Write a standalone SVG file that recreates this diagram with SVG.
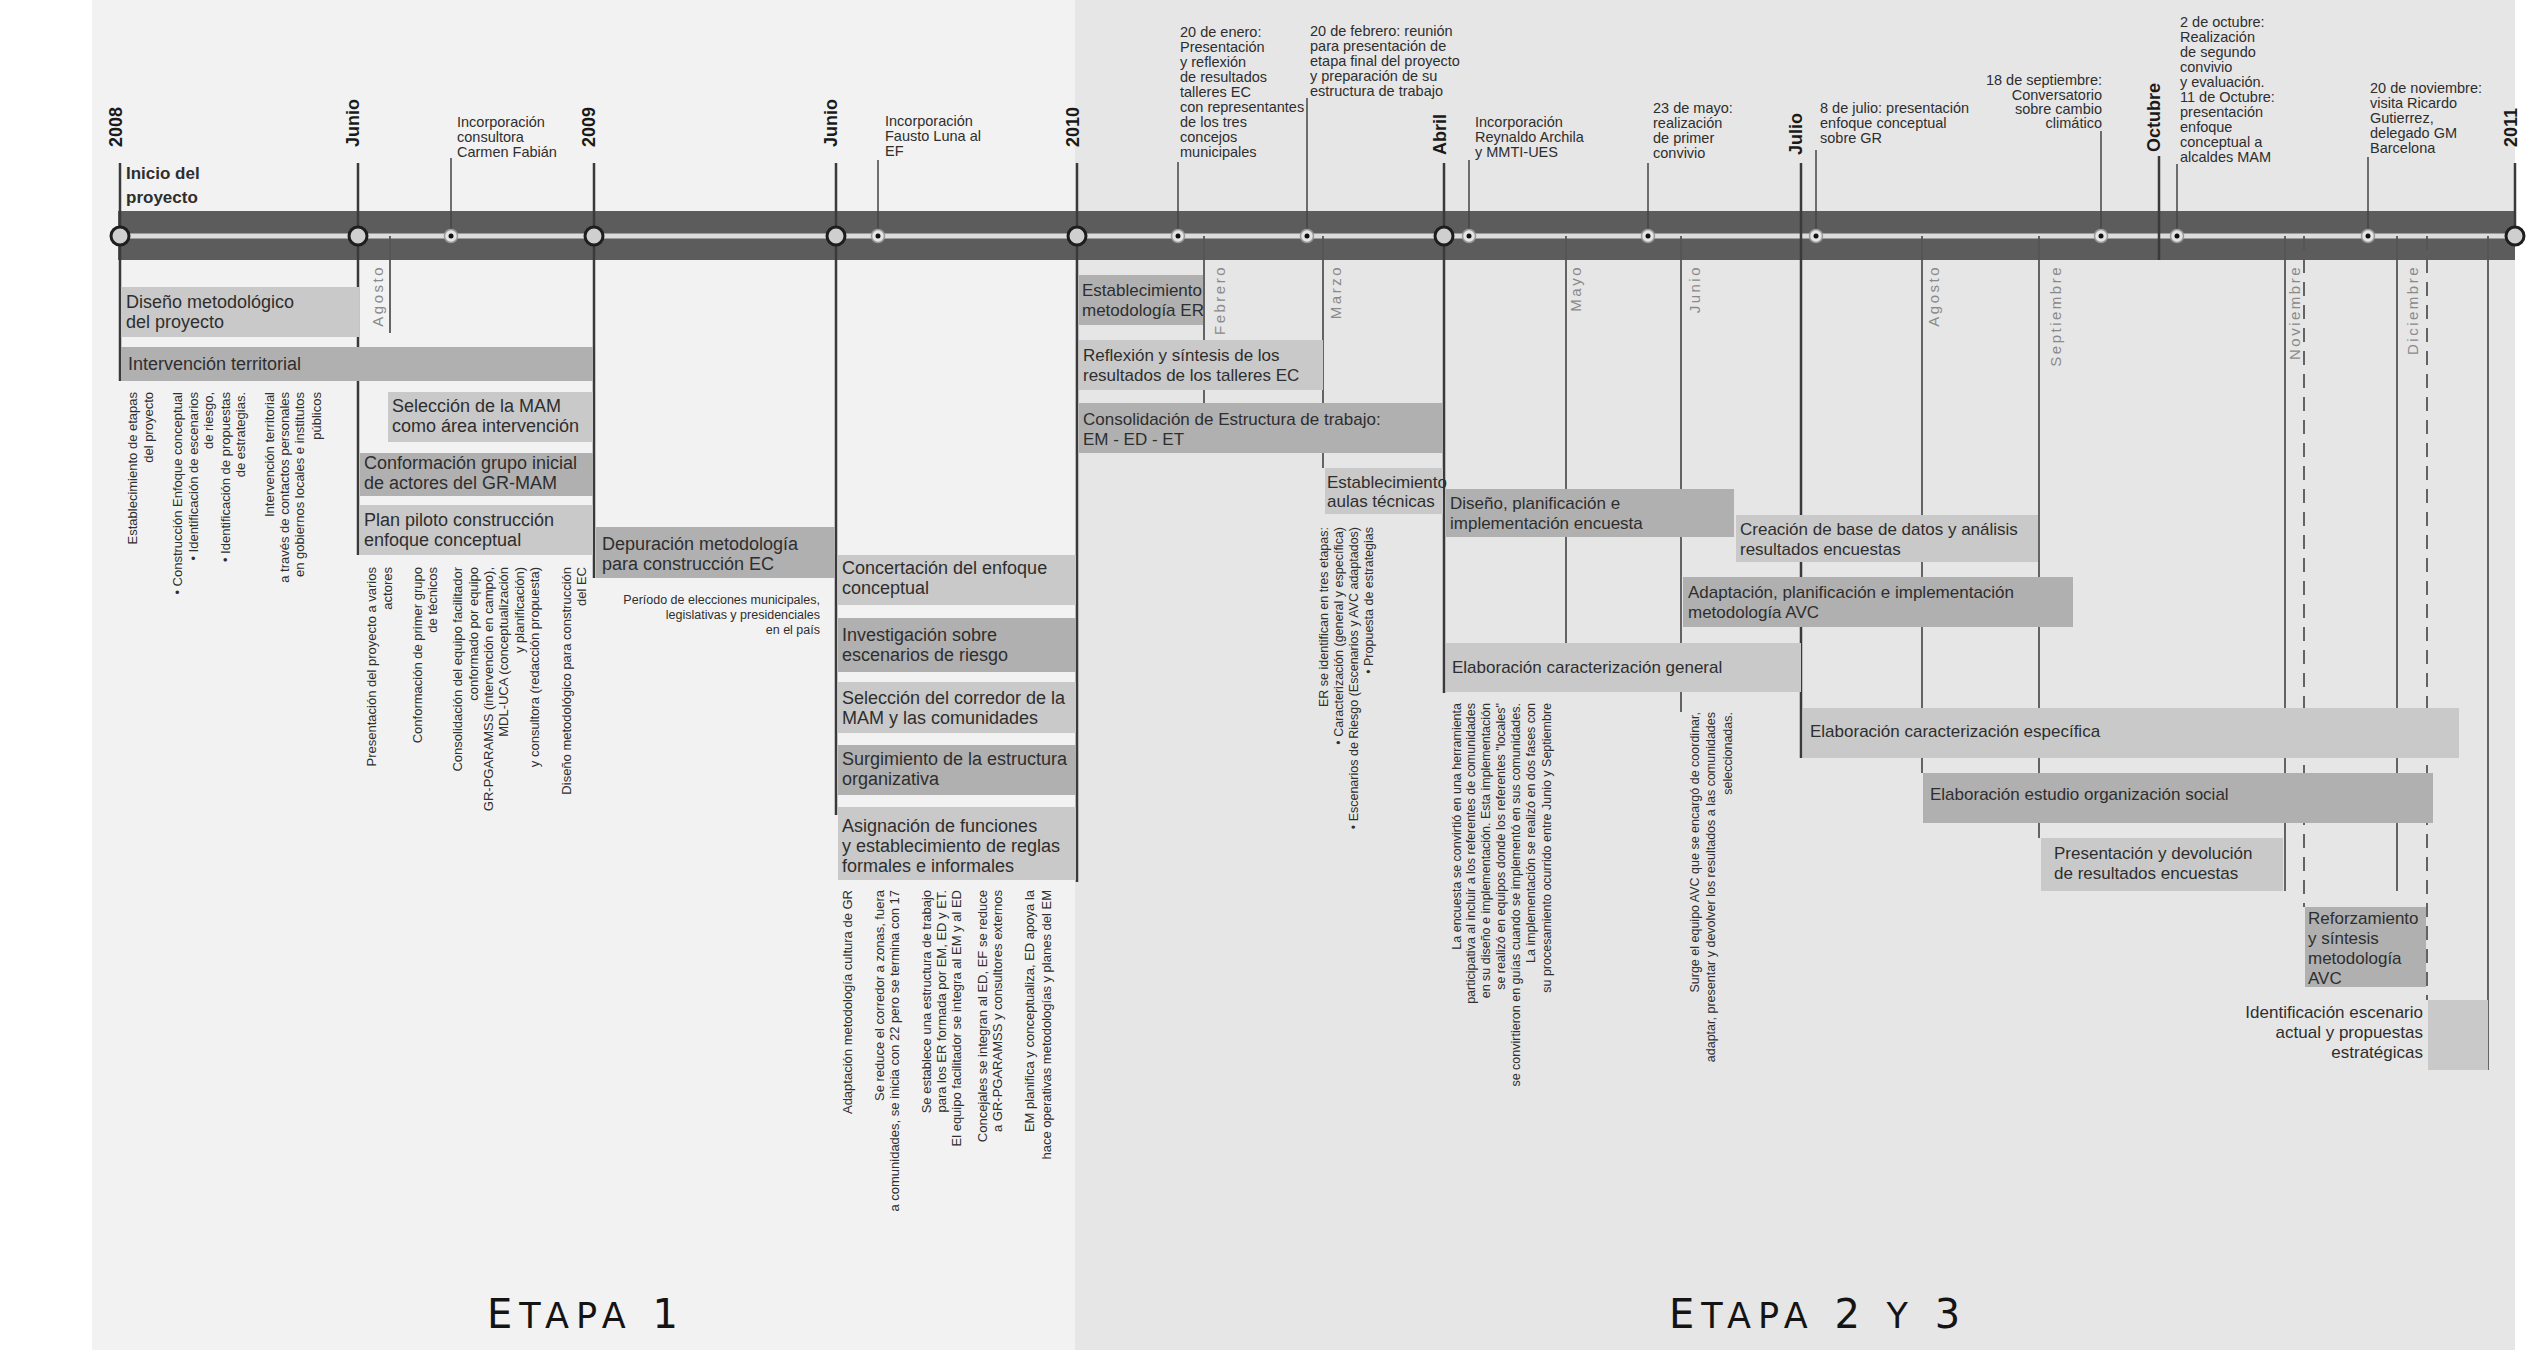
<svg xmlns="http://www.w3.org/2000/svg" width="2529" height="1350" viewBox="0 0 2529 1350">
<style>
text{font-family:"Liberation Sans",Arial,sans-serif;fill:#2e2e2e}
.bx{font-size:18px}
.bs{font-size:17px}
.lt{fill:#c9c9c9}
.dk{fill:#b0b0b0}
.ev{font-size:14.5px}
.yr{font-size:18px;font-weight:bold;fill:#1a1a1a}
.mo{font-size:15px;fill:#8a8a8a;letter-spacing:2.5px;text-anchor:end}
.vt{font-size:13px;text-anchor:end}
.vs{font-size:12.5px;text-anchor:end}
.yl{stroke:#3a3a3a;stroke-width:2.5;fill:none}
.ml{stroke:#555;stroke-width:1.8;fill:none}
.dl{stroke:#555;stroke-width:1.8;stroke-dasharray:14 9;fill:none}
.el{stroke:#444;stroke-width:1.5;fill:none}
.big{fill:#cfcfcf;stroke:#1e1e1e;stroke-width:3}
.dot{fill:#e4e4e4;stroke:#9a9a9a;stroke-width:1.5}
.cd{fill:#111}
.et{font-family:"DejaVu Sans",sans-serif;fill:#141414;letter-spacing:7px}
</style>

<!-- backgrounds -->
<rect x="0" y="0" width="2529" height="1350" fill="#ffffff"/>
<rect x="92" y="0" width="983" height="1350" fill="#f2f2f2"/>
<rect x="1075" y="0" width="1440" height="1350" fill="#e6e6e6"/>

<!-- timeline band -->
<g id="timeline">
<rect x="118" y="211" width="2397" height="49" fill="#5c5c5c"/>
<line x1="118" y1="236" x2="2515" y2="236" stroke="#dcdcdc" stroke-width="5"/>
</g>

<!-- connectors -->
<g id="connectors">
<line class="yl" x1="120" y1="163" x2="120" y2="381"/>
<line class="yl" x1="358" y1="163" x2="358" y2="555"/>
<line class="yl" x1="594" y1="163" x2="594" y2="578"/>
<line class="yl" x1="836" y1="163" x2="836" y2="815"/>
<line class="yl" x1="1077" y1="163" x2="1077" y2="882"/>
<line class="yl" x1="1444" y1="163" x2="1444" y2="693"/>
<line class="yl" x1="1801" y1="163" x2="1801" y2="758"/>
<line class="yl" x1="2159" y1="156" x2="2159" y2="260"/>
<line class="yl" x1="2515" y1="163" x2="2515" y2="236"/>
<line class="ml" x1="390" y1="236" x2="390" y2="333"/>
<line class="ml" x1="1204" y1="236" x2="1204" y2="403"/>
<line class="ml" x1="1323" y1="236" x2="1323" y2="468"/>
<line class="ml" x1="1566" y1="236" x2="1566" y2="643"/>
<line class="ml" x1="1681" y1="236" x2="1681" y2="712"/>
<line class="ml" x1="1922" y1="236" x2="1922" y2="773"/>
<line class="ml" x1="2039" y1="236" x2="2039" y2="838"/>
<line class="ml" x1="2285" y1="236" x2="2285" y2="891"/>
<line class="dl" x1="2304" y1="236" x2="2304" y2="907"/>
<line class="ml" x1="2397" y1="236" x2="2397" y2="891"/>
<line class="dl" x1="2427" y1="236" x2="2427" y2="1000"/>
<line class="ml" x1="2488" y1="236" x2="2488" y2="1070"/>
<line class="el" x1="451" y1="158" x2="451" y2="236"/>
<line class="el" x1="878" y1="160" x2="878" y2="236"/>
<line class="el" x1="1178" y1="162" x2="1178" y2="236"/>
<line class="el" x1="1307" y1="98" x2="1307" y2="236"/>
<line class="el" x1="1469" y1="160" x2="1469" y2="236"/>
<line class="el" x1="1648" y1="163" x2="1648" y2="236"/>
<line class="el" x1="1816" y1="150" x2="1816" y2="236"/>
<line class="el" x1="2101" y1="131" x2="2101" y2="236"/>
<line class="el" x1="2177" y1="164" x2="2177" y2="236"/>
<line class="el" x1="2368" y1="157" x2="2368" y2="236"/>
</g>

<!-- markers on the timeline -->
<g id="markers">
<circle class="big" cx="120" cy="236" r="9"/>
<circle class="big" cx="358" cy="236" r="9"/>
<circle class="big" cx="594" cy="236" r="9"/>
<circle class="big" cx="836" cy="236" r="9"/>
<circle class="big" cx="1077" cy="236" r="9"/>
<circle class="big" cx="1444" cy="236" r="9"/>
<circle class="big" cx="2515" cy="236" r="9"/>
<g>
<circle class="dot" cx="451" cy="236" r="6.5"/><circle class="cd" cx="451" cy="236" r="2.5"/>
<circle class="dot" cx="878" cy="236" r="6.5"/><circle class="cd" cx="878" cy="236" r="2.5"/>
<circle class="dot" cx="1178" cy="236" r="6.5"/><circle class="cd" cx="1178" cy="236" r="2.5"/>
<circle class="dot" cx="1307" cy="236" r="6.5"/><circle class="cd" cx="1307" cy="236" r="2.5"/>
<circle class="dot" cx="1469" cy="236" r="6.5"/><circle class="cd" cx="1469" cy="236" r="2.5"/>
<circle class="dot" cx="1648" cy="236" r="6.5"/><circle class="cd" cx="1648" cy="236" r="2.5"/>
<circle class="dot" cx="1816" cy="236" r="6.5"/><circle class="cd" cx="1816" cy="236" r="2.5"/>
<circle class="dot" cx="2101" cy="236" r="6.5"/><circle class="cd" cx="2101" cy="236" r="2.5"/>
<circle class="dot" cx="2177" cy="236" r="6.5"/><circle class="cd" cx="2177" cy="236" r="2.5"/>
<circle class="dot" cx="2368" cy="236" r="6.5"/><circle class="cd" cx="2368" cy="236" r="2.5"/>
</g>
</g>

<!-- year and month labels -->
<g id="year-labels">
<text class="yr" transform="translate(122,147) rotate(-90)">2008</text>
<text class="yr" transform="translate(359,147) rotate(-90)">Junio</text>
<text class="yr" transform="translate(595,147) rotate(-90)">2009</text>
<text class="yr" transform="translate(837,147) rotate(-90)">Junio</text>
<text class="yr" transform="translate(1079,147) rotate(-90)">2010</text>
<text class="yr" transform="translate(1446,155) rotate(-90)">Abril</text>
<text class="yr" transform="translate(1802,155) rotate(-90)">Julio</text>
<text class="yr" transform="translate(2160,152) rotate(-90)">Octubre</text>
<text class="yr" transform="translate(2517,147) rotate(-90)">2011</text>
</g>
<g id="month-labels">
<text class="mo" transform="translate(383,265) rotate(-90)">Agosto</text>
<text class="mo" transform="translate(1225,265) rotate(-90)">Febrero</text>
<text class="mo" transform="translate(1341,265) rotate(-90)">Marzo</text>
<text class="mo" transform="translate(1581,265) rotate(-90)">Mayo</text>
<text class="mo" transform="translate(1700,265) rotate(-90)">Junio</text>
<text class="mo" transform="translate(1939,265) rotate(-90)">Agosto</text>
<text class="mo" transform="translate(2061,265) rotate(-90)">Septiembre</text>
<text class="mo" transform="translate(2300,265) rotate(-90)">Noviembre</text>
<text class="mo" transform="translate(2418,265) rotate(-90)">Diciembre</text>
</g>

<!-- events above timeline -->
<g id="ev-inicio"><text font-size="17" font-weight="bold" fill="#1a1a1a"><tspan x="126" y="179">Inicio del</tspan><tspan x="126" y="203">proyecto</tspan></text></g>
<g id="ev-carmen"><text class="ev"><tspan x="457" y="127">Incorporación</tspan><tspan x="457" y="142">consultora</tspan><tspan x="457" y="157">Carmen Fabián</tspan></text></g>
<g id="ev-fausto"><text class="ev"><tspan x="885" y="126">Incorporación</tspan><tspan x="885" y="141">Fausto Luna al</tspan><tspan x="885" y="156">EF</tspan></text></g>
<g id="ev-enero"><text class="ev"><tspan x="1180" y="37">20 de enero:</tspan><tspan x="1180" y="52">Presentación</tspan><tspan x="1180" y="67">y reflexión</tspan><tspan x="1180" y="82">de resultados</tspan><tspan x="1180" y="97">talleres EC</tspan><tspan x="1180" y="112">con representantes</tspan><tspan x="1180" y="127">de los tres</tspan><tspan x="1180" y="142">concejos</tspan><tspan x="1180" y="157">municipales</tspan></text></g>
<g id="ev-febrero"><text class="ev"><tspan x="1310" y="36">20 de febrero: reunión</tspan><tspan x="1310" y="51">para presentación de</tspan><tspan x="1310" y="66">etapa final del proyecto</tspan><tspan x="1310" y="81">y preparación de su</tspan><tspan x="1310" y="96">estructura de trabajo</tspan></text></g>
<g id="ev-reynaldo"><text class="ev"><tspan x="1475" y="127">Incorporación</tspan><tspan x="1475" y="142">Reynaldo Archila</tspan><tspan x="1475" y="157">y MMTI-UES</tspan></text></g>
<g id="ev-mayo"><text class="ev"><tspan x="1653" y="113">23 de mayo:</tspan><tspan x="1653" y="128">realización</tspan><tspan x="1653" y="143">de primer</tspan><tspan x="1653" y="158">convivio</tspan></text></g>
<g id="ev-julio"><text class="ev"><tspan x="1820" y="113">8 de julio: presentación</tspan><tspan x="1820" y="128">enfoque conceptual</tspan><tspan x="1820" y="143">sobre GR</tspan></text></g>
<g id="ev-septiembre"><text class="ev" text-anchor="end"><tspan x="2102" y="85">18 de septiembre:</tspan><tspan x="2102" y="100">Conversatorio</tspan><tspan x="2102" y="114">sobre cambio</tspan><tspan x="2102" y="128">climático</tspan></text></g>
<g id="ev-octubre"><text class="ev"><tspan x="2180" y="27">2 de octubre:</tspan><tspan x="2180" y="42">Realización</tspan><tspan x="2180" y="57">de segundo</tspan><tspan x="2180" y="72">convivio</tspan><tspan x="2180" y="87">y evaluación.</tspan><tspan x="2180" y="102">11 de Octubre:</tspan><tspan x="2180" y="117">presentación</tspan><tspan x="2180" y="132">enfoque</tspan><tspan x="2180" y="147">conceptual a</tspan><tspan x="2180" y="162">alcaldes MAM</tspan></text></g>
<g id="ev-noviembre"><text class="ev"><tspan x="2370" y="93">20 de noviembre:</tspan><tspan x="2370" y="108">visita Ricardo</tspan><tspan x="2370" y="123">Gutierrez,</tspan><tspan x="2370" y="138">delegado GM</tspan><tspan x="2370" y="153">Barcelona</tspan></text></g>

<!-- Etapa 1 activity boxes -->
<g id="n-diseno"><rect class="lt" x="121" y="287" width="238" height="50"/><text class="bx"><tspan x="126" y="308">Diseño metodológico</tspan><tspan x="126" y="328">del proyecto</tspan></text></g>
<g id="n-intervencion"><rect class="dk" x="121" y="347" width="472" height="34"/><text class="bx" x="128" y="370">Intervención territorial</text></g>
<g id="n-seleccion-mam"><rect class="lt" x="388" y="392" width="205" height="50"/><text class="bx"><tspan x="392" y="412">Selección de la MAM</tspan><tspan x="392" y="432">como área intervención</tspan></text></g>
<g id="n-conformacion"><rect class="dk" x="360" y="453" width="233" height="43"/><text class="bx"><tspan x="364" y="469">Conformación grupo inicial</tspan><tspan x="364" y="489">de actores del GR-MAM</tspan></text></g>
<g id="n-plan-piloto"><rect class="lt" x="360" y="505" width="233" height="50"/><text class="bx"><tspan x="364" y="526">Plan piloto construcción</tspan><tspan x="364" y="546">enfoque conceptual</tspan></text></g>
<g id="n-depuracion"><rect class="dk" x="596" y="527" width="239" height="51"/><text class="bx"><tspan x="602" y="550">Depuración metodología</tspan><tspan x="602" y="570">para construcción EC</tspan></text></g>
<g id="n-concertacion"><rect class="lt" x="838" y="555" width="238" height="50"/><text class="bx"><tspan x="842" y="574">Concertación del enfoque</tspan><tspan x="842" y="594">conceptual</tspan></text></g>
<g id="n-investigacion"><rect class="dk" x="838" y="618" width="238" height="54"/><text class="bx"><tspan x="842" y="641">Investigación sobre</tspan><tspan x="842" y="661">escenarios de riesgo</tspan></text></g>
<g id="n-corredor"><rect class="lt" x="838" y="682" width="238" height="51"/><text class="bx"><tspan x="842" y="704">Selección del corredor de la</tspan><tspan x="842" y="724">MAM y las comunidades</tspan></text></g>
<g id="n-surgimiento"><rect class="dk" x="838" y="745" width="238" height="50"/><text class="bx"><tspan x="842" y="765">Surgimiento de la estructura</tspan><tspan x="842" y="785">organizativa</tspan></text></g>
<g id="n-asignacion"><rect class="lt" x="838" y="807" width="238" height="73"/><text class="bx"><tspan x="842" y="832">Asignación de funciones</tspan><tspan x="842" y="852">y establecimiento de reglas</tspan><tspan x="842" y="872">formales e informales</tspan></text></g>

<!-- Etapa 2 y 3 activity boxes -->
<g id="n-est-er"><rect class="dk" x="1079" y="275" width="124" height="50"/><text class="bs"><tspan x="1082" y="296">Establecimiento</tspan><tspan x="1082" y="316">metodología ER</tspan></text></g>
<g id="n-reflexion"><rect class="lt" x="1079" y="340" width="244" height="50"/><text class="bs"><tspan x="1083" y="361">Reflexión y síntesis de los</tspan><tspan x="1083" y="381">resultados de los talleres EC</tspan></text></g>
<g id="n-consolidacion"><rect class="dk" x="1079" y="403" width="364" height="50"/><text class="bs"><tspan x="1083" y="425">Consolidación de Estructura de trabajo:</tspan><tspan x="1083" y="445">EM - ED - ET</tspan></text></g>
<g id="n-aulas"><rect class="lt" x="1325" y="468" width="118" height="46"/><text class="bs"><tspan x="1327" y="488">Establecimiento</tspan><tspan x="1327" y="507">aulas técnicas</tspan></text></g>
<g id="n-encuesta"><rect class="dk" x="1446" y="489" width="288" height="48"/><text class="bs"><tspan x="1450" y="509">Diseño, planificación e</tspan><tspan x="1450" y="529">implementación encuesta</tspan></text></g>
<g id="n-base-datos"><rect class="lt" x="1736" y="515" width="302" height="47"/><text class="bs"><tspan x="1740" y="535">Creación de base de datos y análisis</tspan><tspan x="1740" y="555">resultados encuestas</tspan></text></g>
<g id="n-avc"><rect class="dk" x="1683" y="577" width="390" height="50"/><text class="bs"><tspan x="1688" y="598">Adaptación, planificación e implementación</tspan><tspan x="1688" y="618">metodología AVC</tspan></text></g>
<g id="n-caract-general"><rect class="lt" x="1446" y="643" width="355" height="49"/><text class="bs" x="1452" y="673">Elaboración caracterización general</text></g>
<g id="n-caract-especifica"><rect class="lt" x="1803" y="708" width="656" height="50"/><text class="bs" x="1810" y="737">Elaboración caracterización específica</text></g>
<g id="n-org-social"><rect class="dk" x="1923" y="773" width="510" height="50"/><text class="bs" x="1930" y="800">Elaboración estudio organización social</text></g>
<g id="n-devolucion"><rect class="lt" x="2041" y="838" width="242" height="53"/><text class="bs"><tspan x="2054" y="859">Presentación y devolución</tspan><tspan x="2054" y="879">de resultados encuestas</tspan></text></g>
<g id="n-reforzamiento"><rect class="dk" x="2305" y="907" width="121" height="80"/><text class="bs"><tspan x="2308" y="924">Reforzamiento</tspan><tspan x="2308" y="944">y síntesis</tspan><tspan x="2308" y="964">metodología</tspan><tspan x="2308" y="984">AVC</tspan></text></g>
<g id="n-escenario"><rect class="lt" x="2428" y="1000" width="60" height="70"/><text class="bs" text-anchor="end"><tspan x="2423" y="1018">Identificación escenario</tspan><tspan x="2423" y="1038">actual y propuestas</tspan><tspan x="2423" y="1058">estratégicas</tspan></text></g>

<!-- vertical notes -->
<g id="note-intervencion">
<text class="vt" transform="translate(137,392) rotate(-90)">Establecimiento de etapas</text>
<text class="vt" transform="translate(153,392) rotate(-90)">del proyecto</text>
<text class="vt" transform="translate(182,392) rotate(-90)">• Construcción Enfoque conceptual</text>
<text class="vt" transform="translate(198,392) rotate(-90)">• Identificación de escenarios</text>
<text class="vt" transform="translate(213,392) rotate(-90)">de riesgo,</text>
<text class="vt" transform="translate(230,392) rotate(-90)">• Identificación de propuestas</text>
<text class="vt" transform="translate(245,392) rotate(-90)">de estrategias.</text>
<text class="vt" transform="translate(274,392) rotate(-90)">Intervención territorial</text>
<text class="vt" transform="translate(289,392) rotate(-90)">a través de contactos personales</text>
<text class="vt" transform="translate(304,392) rotate(-90)">en gobiernos locales e institutos</text>
<text class="vt" transform="translate(321,392) rotate(-90)">públicos</text>
</g>
<g id="note-plan-piloto">
<text class="vt" transform="translate(376,567) rotate(-90)">Presentación del proyecto a varios</text>
<text class="vt" transform="translate(392,567) rotate(-90)">actores</text>
<text class="vt" transform="translate(422,567) rotate(-90)">Conformación de primer grupo</text>
<text class="vt" transform="translate(437,567) rotate(-90)">de técnicos</text>
<text class="vt" transform="translate(462,567) rotate(-90)">Consolidación del equipo facilitador</text>
<text class="vt" transform="translate(478,567) rotate(-90)">conformado por equipo</text>
<text class="vt" transform="translate(493,567) rotate(-90)">GR-PGARAMSS (intervención en campo),</text>
<text class="vt" transform="translate(508,567) rotate(-90)">MDL-UCA (conceptualización</text>
<text class="vt" transform="translate(524,567) rotate(-90)">y planificación)</text>
<text class="vt" transform="translate(539,567) rotate(-90)">y consultora (redacción propuesta)</text>
<text class="vt" transform="translate(571,567) rotate(-90)">Diseño metodológico para construcción</text>
<text class="vt" transform="translate(586,567) rotate(-90)">del EC</text>
</g>
<g id="note-elecciones"><text font-size="12.5" text-anchor="end"><tspan x="820" y="604">Período de elecciones municipales,</tspan><tspan x="820" y="619">legislativas y presidenciales</tspan><tspan x="820" y="634">en el país</tspan></text></g>
<g id="note-asignacion">
<text class="vt" transform="translate(852,890) rotate(-90)">Adaptación metodología cultura de GR</text>
<text class="vt" transform="translate(884,890) rotate(-90)">Se reduce el corredor a zonas, fuera</text>
<text class="vt" transform="translate(899,890) rotate(-90)">a comunidades, se inicia con 22 pero se termina con 17</text>
<text class="vt" transform="translate(931,890) rotate(-90)">Se establece una estructura de trabajo</text>
<text class="vt" transform="translate(946,890) rotate(-90)">para los ER formada por EM, ED y ET.</text>
<text class="vt" transform="translate(961,890) rotate(-90)">El equipo facilitador se integra al EM y al ED</text>
<text class="vt" transform="translate(987,890) rotate(-90)">Concejales se integran al ED, EF se reduce</text>
<text class="vt" transform="translate(1002,890) rotate(-90)">a GR-PGARAMSS y consultores externos</text>
<text class="vt" transform="translate(1034,890) rotate(-90)">EM planifica y conceptualiza, ED apoya la</text>
<text class="vt" transform="translate(1051,890) rotate(-90)">hace operativas metodologías y planes del EM</text>
</g>
<g id="note-marzo">
<text class="vs" transform="translate(1328,527) rotate(-90)">ER se identifican en tres etapas:</text>
<text class="vs" transform="translate(1343,527) rotate(-90)">• Caracterización (general y específica)</text>
<text class="vs" transform="translate(1358,527) rotate(-90)">• Escenarios de Riesgo (Escenarios y AVC adaptados)</text>
<text class="vs" transform="translate(1373,527) rotate(-90)">• Propuesta de estrategias</text>
</g>
<g id="note-encuesta">
<text class="vs" transform="translate(1461,703) rotate(-90)">La encuesta se convirtió en una herramienta</text>
<text class="vs" transform="translate(1475,703) rotate(-90)">participativa al incluir a los referentes de comunidades</text>
<text class="vs" transform="translate(1490,703) rotate(-90)">en su diseño e implementación. Esta implementación</text>
<text class="vs" transform="translate(1505,703) rotate(-90)">se realizó en equipos donde los referentes "locales"</text>
<text class="vs" transform="translate(1520,703) rotate(-90)">se convirtieron en guías cuando se implementó en sus comunidades.</text>
<text class="vs" transform="translate(1535,703) rotate(-90)">La implementación se realizó en dos fases con</text>
<text class="vs" transform="translate(1551,703) rotate(-90)">su procesamiento ocurrido entre Junio y Septiembre</text>
</g>
<g id="note-avc">
<text class="vs" transform="translate(1699,712) rotate(-90)">Surge el equipo AVC que se encargó de coordinar,</text>
<text class="vs" transform="translate(1715,712) rotate(-90)">adaptar, presentar y devolver los resultados a las comunidades</text>
<text class="vs" transform="translate(1732,712) rotate(-90)">seleccionadas.</text>
</g>

<!-- stage titles -->
<g id="etapa-1"><text class="et" x="487" y="1328"><tspan font-size="40">E</tspan><tspan font-size="35">TAPA</tspan><tspan font-size="40"> 1</tspan></text></g>
<g id="etapa-2-3"><text class="et" x="1669" y="1328"><tspan font-size="40">E</tspan><tspan font-size="35">TAPA</tspan><tspan font-size="40"> 2 </tspan><tspan font-size="35">Y</tspan><tspan font-size="40"> 3</tspan></text></g>
</svg>
